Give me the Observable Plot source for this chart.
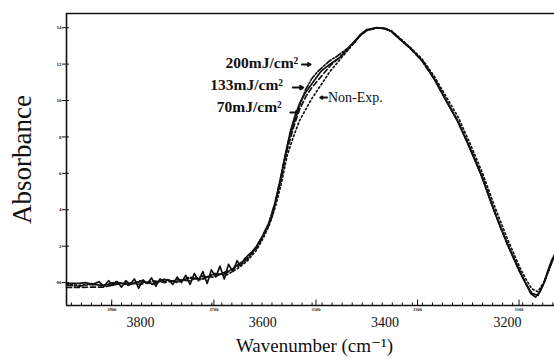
<!DOCTYPE html>
<html>
<head>
<meta charset="utf-8">
<script src="https://cdn.jsdelivr.net/npm/d3@7"></script>
<script src="https://cdn.jsdelivr.net/npm/@observablehq/plot@0.6"></script>
<style>
  html, body { margin: 0; padding: 0; background: #fff; }
  svg { display: block; }
</style>
</head>
<body>
<div id="chart"></div>
<script>
// ---- data ----
const xDomain = [3921, 3123];
const yDomain = [-1.26, 14.78];
const xTickValues = [3800, 3600, 3400, 3200];
const yTickValues = [0, 2, 4, 6, 8, 10, 12, 14];
const yTickLabels = ["00", "2", "4", "6", "8", "10", "12", "14"];
const tinyTickValues = [3847, 3680, 3513, 3347, 3181];
const tinyTickLabels = ["3900", "3700", "3500", "3300", "3100"];

// 70 mJ/cm2 (solid, noisy baseline)
const w70 = [3921,3905,3890,3878,3868,3860,3852,3845,3838,3831,3824,3817,3810,3803,3796,3789,3782,3775,3768,3761,3754,3747,3740,3733,3726,3719,3712,3705,3698,3691,3684,3677,3670,3663,3656,3649,3642,3636,3630,3624,3617,3610,3601,3593,3585,3578,3572,3567,3562,3555,3547,3539,3531,3518,3505,3490,3473,3457,3441,3430,3413,3400,3390,3380,3370,3359,3337,3318,3298,3282,3265,3244,3228,3211,3195,3178,3162,3154,3146,3140,3134,3128,3123];
const a70 = [-0.05,-0.05,0.0,-0.1,0.05,-0.2,0.1,-0.15,0.05,-0.25,0.1,-0.1,0.2,-0.3,0.15,-0.05,0.25,-0.2,0.2,0.05,0.15,-0.1,0.3,0.0,0.4,-0.1,0.5,0.1,0.6,-0.05,0.7,0.3,0.9,0.2,1.0,0.6,1.2,0.9,1.3,1.5,1.7,2.0,2.5,3.0,3.6,4.6,5.5,6.4,7.2,8.3,9.2,9.9,10.4,11.0,11.6,12.0,12.4,13.0,13.6,13.9,14.0,13.95,13.8,13.5,13.2,12.9,12.1,11.1,9.85,8.9,7.65,6.0,4.5,3.0,1.75,0.5,-0.6,-0.8,-0.45,0.0,0.65,1.2,1.5];

// shared wavenumber grid for the other spectra
const wGrid = [3921,3900,3880,3860,3840,3820,3800,3780,3760,3740,3720,3700,3680,3660,3640,3625,3610,3600,3590,3580,3570,3560,3550,3540,3530,3520,3510,3500,3490,3480,3470,3460,3450,3440,3430,3413,3400,3390,3380,3370,3360,3340,3320,3300,3280,3260,3240,3220,3200,3180,3170,3160,3150,3140,3130,3123];
const a133 = [-0.27,-0.27,-0.25,-0.25,-0.1,0.0,-0.1,0.1,0.0,0.15,0.1,0.35,0.3,0.6,0.9,1.3,1.9,2.5,3.2,4.3,5.7,7.3,8.5,9.5,10.2,10.7,11.1,11.5,11.9,12.2,12.5,12.85,13.2,13.6,13.85,14.0,13.95,13.8,13.5,13.2,12.9,12.2,11.2,10.0,8.8,7.3,5.7,3.8,2.1,0.6,-0.05,-0.6,-0.7,0.0,0.9,1.5];
const a200 = [-0.15,-0.2,-0.1,-0.15,0.0,-0.1,0.05,-0.05,0.15,0.05,0.25,0.2,0.45,0.5,1.0,1.35,2.0,2.6,3.3,4.4,5.9,7.5,8.7,9.7,10.6,11.2,11.6,11.9,12.2,12.4,12.65,12.9,13.2,13.6,13.85,14.0,13.95,13.8,13.5,13.2,12.9,12.2,11.2,10.0,8.8,7.3,5.7,3.8,2.1,0.6,-0.05,-0.6,-0.7,0.0,0.9,1.5];
const aNonExp = [-0.1,-0.15,-0.05,-0.2,0.05,-0.15,0.1,-0.1,0.2,0.0,0.3,0.15,0.5,0.4,0.8,1.2,1.8,2.4,3.1,4.1,5.4,7.0,8.0,8.9,9.5,10.1,10.6,11.1,11.6,12.0,12.4,12.8,13.2,13.6,13.85,14.0,13.95,13.85,13.55,13.25,12.95,12.3,11.35,10.2,9.05,7.55,5.95,4.1,2.4,0.85,0.2,-0.35,-0.5,0.05,0.9,1.5];

// annotation labels (text end / arrow in data units)
const labelNames = ["200mJ/cm²", "133mJ/cm²", "70mJ/cm²"];
const labelW = [3542, 3567, 3569];
const labelA = [12.05, 10.85, 9.65];
const arrowW1 = [3536, 3551, 3555];
const arrowW2 = [3522, 3534, 3542];
const arrowA = [11.98, 10.71, 9.34];
const nonExpName = "Non-Exp.";
const nonExpW = [3495, 3506];
const nonExpA = 10.16;

// ---- build tables ----
const s70 = w70.map((w, i) => ({w, a: a70[i]}));
const s133 = wGrid.map((w, i) => ({w, a: a133[i]}));
const s200 = wGrid.map((w, i) => ({w, a: a200[i]}));
const sNE = wGrid.map((w, i) => ({w, a: aNonExp[i]}));
const labels = labelNames.map((t, i) => ({t, w: labelW[i], a: labelA[i]}));
const arrows = labelNames.map((t, i) => ({x1: arrowW1[i], x2: arrowW2[i], y: arrowA[i]}));
arrows.push({x1: nonExpW[0], x2: nonExpW[1], y: nonExpA});
const minorTicks = d3.range(3913, 3123, -16.4);

const serif = "'Liberation Serif', 'DejaVu Serif', serif";
const lineStyle = {x: "w", y: "a", stroke: "#111", strokeWidth: 1.7, curve: "linear"};

const chart = Plot.plot({
  width: 554,
  height: 361,
  marginLeft: 66,
  marginRight: 0,
  marginTop: 13,
  marginBottom: 56,
  style: {fontFamily: serif, background: "#fff", color: "#111"},
  x: {domain: xDomain},
  y: {domain: yDomain},
  marks: [
    // frame (left, top, bottom)
    Plot.ruleX([xDomain[0]], {stroke: "#111", strokeWidth: 1.6}),
    Plot.ruleY([yDomain[0]], {stroke: "#111", strokeWidth: 1.6}),
    Plot.ruleY([yDomain[1]], {stroke: "#111", strokeWidth: 1.6}),
    Plot.ruleX(minorTicks, {y1: yDomain[0], y2: yDomain[0] + 0.14, stroke: "#111", strokeWidth: 1}),
    Plot.ruleX(tinyTickValues, {y1: yDomain[0], y2: yDomain[0] + 0.3, stroke: "#111", strokeWidth: 1}),
    Plot.axisX({ticks: xTickValues, tickSize: 0, tickPadding: 12, fontSize: 14, label: null, tickFormat: d => String(d)}),
    Plot.text(tinyTickValues, {x: d => d, text: (d, i) => tinyTickLabels[i], frameAnchor: "bottom", dy: 5, fontSize: 4.5, fontWeight: "bold", fill: "#222"}),
    Plot.axisY({ticks: yTickValues, tickSize: 7, dx: 3, tickPadding: 1, fontSize: 5, fontWeight: "bold", label: null, tickFormat: (d, i) => yTickLabels[i]}),
    Plot.text(["Wavenumber (cm⁻¹)"], {frameAnchor: "bottom", textAnchor: "middle", dx: 4, dy: 46, fontSize: 19, fill: "#111"}),
    Plot.text(["Absorbance"], {frameAnchor: "left", textAnchor: "middle", dx: -44, rotate: -90, fontSize: 27, fill: "#111"}),
    // spectra
    Plot.line(sNE, {...lineStyle, strokeDasharray: "1.6,2.6"}),
    Plot.line(s200, {...lineStyle, strokeDasharray: "6,2,1.5,2"}),
    Plot.line(s133, {...lineStyle, strokeDasharray: "5,3"}),
    Plot.line(s70, {...lineStyle}),
    // annotations
    Plot.text(labels, {x: "w", y: "a", text: "t", textAnchor: "end", fontSize: 15.5, fontWeight: "bold", fill: "#111"}),
    Plot.text([nonExpName], {x: nonExpW[0], y: nonExpA, textAnchor: "start", dx: 1, fontSize: 14, fill: "#111"}),
    Plot.arrow(arrows, {x1: "x1", x2: "x2", y1: "y", y2: "y", stroke: "#111", strokeWidth: 2, headLength: 5})
  ]
});
document.getElementById("chart").appendChild(chart);
</script>
</body>
</html>
